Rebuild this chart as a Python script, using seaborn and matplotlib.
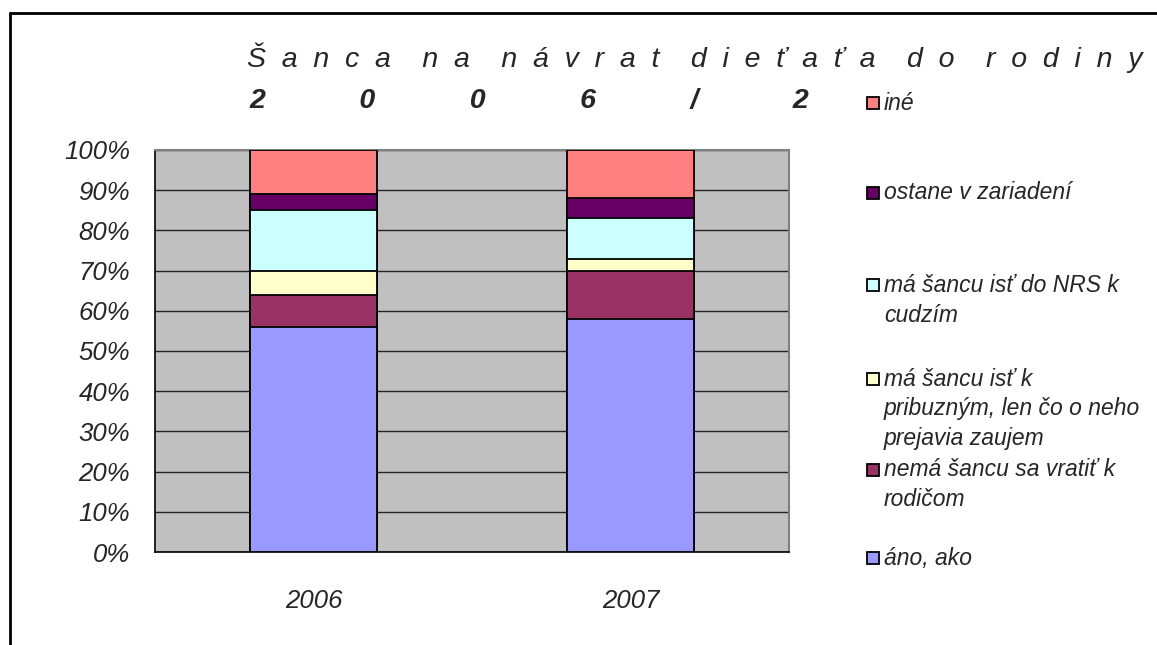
import numpy as np
import pandas as pd
import matplotlib
matplotlib.use("Agg")
import matplotlib.pyplot as plt
from matplotlib.patches import Rectangle
from matplotlib.lines import Line2D
import seaborn as sns

# data (percent of children per year)
years = ["2006", "2007"]
ano_ako = [56, 58]
nema_sancu = [8, 12]
k_pribuznym = [6, 3]
do_nrs = [15, 10]
ostane = [4, 5]
ine = [11, 12]

series_names = ["áno, ako",
                "nemá šancu sa vratiť k\nrodičom",
                "má šancu isť k\npribuzným, len čo o neho\nprejavia zaujem",
                "má šancu isť do NRS k\ncudzím",
                "ostane v zariadení",
                "iné"]
series_colors = ["#9999FF", "#993366", "#FFFFCC", "#CCFFFF", "#660066", "#FF8080"]

W, H = 1157, 645

sns.set_style("white")
plt.rcParams["font.family"] = ["Liberation Sans", "DejaVu Sans"]

fig = plt.figure(figsize=(W / 100, H / 100), dpi=100)


def fx(px):
    return px / W


def fy(py):
    return 1 - py / H


ax = fig.add_axes([fx(155), fy(552), fx(789) - fx(155), fy(150) - fy(552)])
ax.set_facecolor("#C0C0C0")

values = np.array([ano_ako, nema_sancu, k_pribuznym, do_nrs, ostane, ine], dtype=float)
tops = np.cumsum(values, axis=0)

# draw cumulative bars from the top layer down so each covers the one above
for i in range(len(series_names) - 1, -1, -1):
    df = pd.DataFrame({"rok": years, "hodnota": tops[i]})
    sns.barplot(data=df, x="rok", y="hodnota", color=series_colors[i], saturation=1,
                width=0.4, edgecolor="black", linewidth=1.3, ax=ax, zorder=3)

ax.set_xlim(-0.5, 1.5)
ax.set_ylim(0, 100)
ax.set_yticks(np.arange(0, 101, 10))
ax.set_yticklabels([f"{v}%" for v in range(0, 101, 10)])
ax.yaxis.grid(True, color="#222222", linewidth=1.0)
ax.set_axisbelow(True)
ax.set_xlabel("")
ax.set_ylabel("")

ax.set_xticks([0, 1])
ax.set_xticklabels(years)
ax.tick_params(axis="x", which="major", length=0, pad=27)
ax.set_xticks([-0.5, 0.5, 1.5], minor=True)
ax.tick_params(axis="x", which="minor", length=7, direction="out", width=1, color="black")
ax.tick_params(axis="y", length=6, direction="out", width=1, color="black", pad=12)
for lab in ax.get_xticklabels() + ax.get_yticklabels():
    lab.set_fontsize(18.5)
    lab.set_fontstyle("italic")

for side in ["left", "bottom"]:
    ax.spines[side].set_color("black")
    ax.spines[side].set_linewidth(1.2)
for side in ["top", "right"]:
    ax.spines[side].set_color("#808080")
    ax.spines[side].set_linewidth(1.5)

# title (stretched as in the original)
words = ["Šanca", "na", "návrat", "dieťaťa", "do", "rodiny"]
line1 = "    ".join("  ".join(w) for w in words)
fig.text(fx(247), fy(58), line1, fontsize=20.5, fontstyle="italic", ha="left", va="center")
line2 = (" " * 12).join(list("2006/2"))
fig.text(fx(249), fy(101), line2, fontsize=20.5, fontstyle="italic", fontweight="bold",
         ha="left", va="center")

# legend, top to bottom
legend_y = [103, 193, 285, 379, 470, 558]
order = list(range(len(series_names) - 1, -1, -1))
for y0, i in zip(legend_y, order):
    fig.add_artist(Rectangle((fx(867), fy(y0 + 6)), fx(12), fy(y0 - 6) - fy(y0 + 6),
                             transform=fig.transFigure, facecolor=series_colors[i],
                             edgecolor="black", linewidth=1.3))
    for k, line in enumerate(series_names[i].split("\n")):
        fig.text(fx(884), fy(y0 + 30 * k), line, fontsize=16.5, fontstyle="italic",
                 ha="left", va="center")

# outer chart frame (cropped on right/bottom)
fig.add_artist(Line2D([fx(10), fx(10)], [fy(13), 0], transform=fig.transFigure,
                      color="black", linewidth=2))
fig.add_artist(Line2D([fx(10), 1], [fy(13), fy(13)], transform=fig.transFigure,
                      color="black", linewidth=2))

fig.savefig("out.png", dpi=100)
